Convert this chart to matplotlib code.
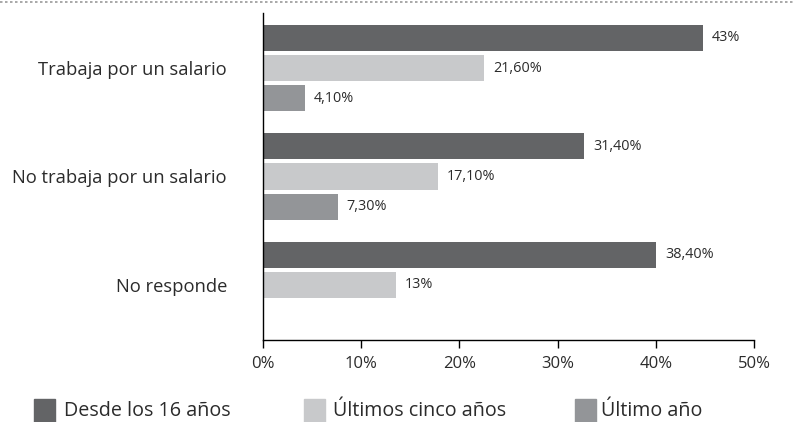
import numpy as np
import matplotlib.pyplot as plt
from matplotlib.patches import Rectangle
from matplotlib.lines import Line2D

plt.rcParams['font.family'] = ['Open Sans', 'DejaVu Sans']

categories = ['Trabaja por un salario', 'No trabaja por un salario', 'No responde']
series_names = ['Desde los 16 años', 'Últimos cinco años', 'Último año']
desde_16 = [43.0, 31.4, 38.4]
cinco_anos = [21.6, 17.1, 13.0]
ultimo_ano = [4.1, 7.3, None]
value_labels = [
    ['43%', '31,40%', '38,40%'],
    ['21,60%', '17,10%', '13%'],
    ['4,10%', '7,30%', ''],
]
tick_labels = ['0%', '10%', '20%', '30%', '40%', '50%']
colors = ['#636466', '#c8c9cb', '#939598']
text_color = '#2b2b2b'

fig = plt.figure(figsize=(7.93, 4.22), dpi=100)
ax = fig.add_axes([263 / 793, 1 - 340 / 422, 491 / 793, 327 / 422])

offset = 0.277
height = 0.24
y = np.arange(len(categories))
for k, vals in enumerate([desde_16, cinco_anos, ultimo_ano]):
    for i, v in enumerate(vals):
        if v is None:
            continue
        yy = y[i] + (k - 1) * offset
        ax.barh(yy, v, height=height, color=colors[k], edgecolor='none')
        ax.annotate(value_labels[k][i], (v, yy), xytext=(6.5, 0),
                    textcoords='offset points', va='center', ha='left',
                    fontsize=10.4, color=text_color)

# in the source the bars run about 4% longer than the printed axis,
# so the ticks sit at 0, 9.6, 19.2 ... of the value scale
ax.set_xlim(0, 48)
ax.set_xticks(np.linspace(0, 48, len(tick_labels)))
ax.set_xticklabels(tick_labels, fontsize=12, color=text_color)
ax.tick_params(axis='x', length=5.5, width=1, direction='out', pad=6)

ax.set_ylim(2.507, -0.507)
ax.set_yticks(y)
ax.set_yticklabels(categories, fontsize=13.2, color=text_color)
ax.tick_params(axis='y', length=0, pad=26)

for s in ['top', 'right']:
    ax.spines[s].set_visible(False)
for s in ['left', 'bottom']:
    ax.spines[s].set_linewidth(1)
    ax.spines[s].set_color('black')

# dotted rule at the top
fig.add_artist(Line2D([0, 1], [1 - 2 / 422, 1 - 2 / 422], transform=fig.transFigure,
                      color='#999999', linestyle=(0, (1.5, 1.5)), linewidth=1.2))

# legend
sq_x = [34, 304, 575]
txt_x = [64, 333, 601]
for k, name in enumerate(series_names):
    fig.add_artist(Rectangle((sq_x[k] / 793, 0), 21 / 793, 23 / 422,
                             transform=fig.transFigure, color=colors[k]))
    fig.text(txt_x[k] / 793, 1 - 416 / 422, name, fontsize=14.2,
             va='baseline', ha='left', color=text_color)

fig.savefig('out.png', dpi=100)
